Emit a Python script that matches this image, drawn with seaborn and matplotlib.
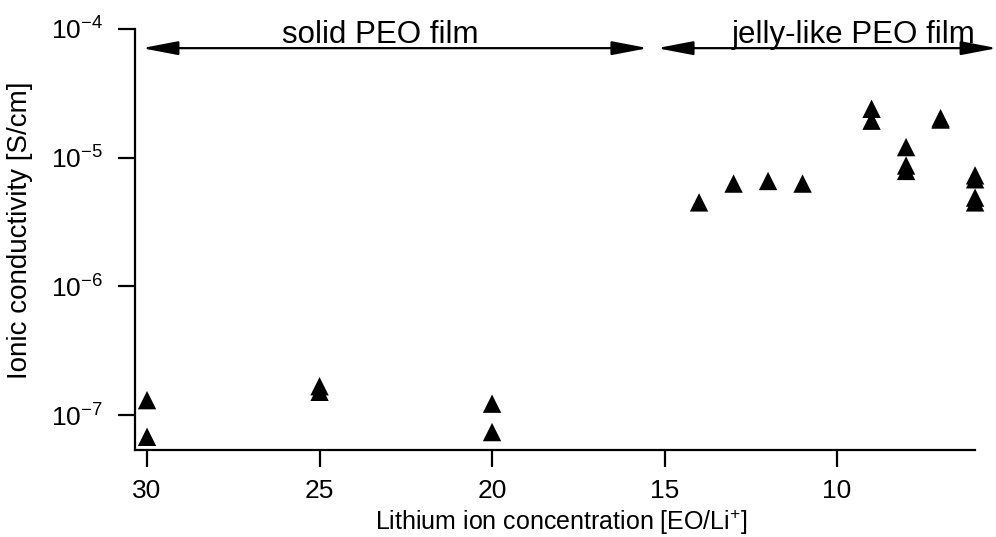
import matplotlib
matplotlib.use("Agg")
import matplotlib.pyplot as plt
import seaborn as sns
import pandas as pd
import numpy as np
from matplotlib.ticker import LogLocator, NullLocator, FixedLocator

# Data
eo_li = [30, 30, 25, 25, 20, 20,
         14, 13, 12, 11,
         9, 9, 8, 8, 8, 7, 7,
         6, 6, 6, 6]
conductivity = [1.31e-7, 6.8e-8, 1.68e-7, 1.52e-7, 1.23e-7, 7.4e-8,
                4.5e-6, 6.3e-6, 6.6e-6, 6.3e-6,
                2.40e-5, 1.94e-5, 1.21e-5, 8.7e-6, 7.9e-6, 2.03e-5, 1.98e-5,
                7.3e-6, 6.8e-6, 4.9e-6, 4.5e-6]
x_ticks = [30, 25, 20, 15, 10]
region_labels = ["solid PEO film", "jelly-like PEO film"]

df = pd.DataFrame({"x": eo_li, "y": conductivity})

sns.set_theme(style="white")
plt.rcParams["font.family"] = ["Liberation Sans", "DejaVu Sans"]
plt.rcParams["mathtext.fontset"] = "custom"
plt.rcParams["mathtext.rm"] = "Liberation Sans"
plt.rcParams["mathtext.it"] = "Liberation Sans:italic"
plt.rcParams["text.color"] = "black"
plt.rcParams["axes.labelcolor"] = "black"

fig = plt.figure(figsize=(9.96, 5.37), dpi=100)
ax = fig.add_axes([0.1355, 0.162, 0.979 - 0.1355, 0.946 - 0.162])

sns.scatterplot(data=df, x="x", y="y", marker="^", color="black", s=175,
                edgecolor="none", ax=ax, legend=False, clip_on=False)

ax.set_yscale("log")
ax.set_xlim(30.35, 6.0)
ax.set_ylim(10 ** -7.27, 1e-4)
ax.xaxis.set_major_locator(FixedLocator(x_ticks))
ax.yaxis.set_major_locator(LogLocator(base=10, numticks=10))
ax.yaxis.set_minor_locator(NullLocator())
ax.xaxis.set_minor_locator(NullLocator())

for s in ["top", "right"]:
    ax.spines[s].set_visible(False)
for s in ["left", "bottom"]:
    ax.spines[s].set_linewidth(1.6)
    ax.spines[s].set_color("black")

ax.tick_params(axis="both", which="major", direction="out", length=12,
               width=1.6, color="black", labelsize=19, labelcolor="black",
               bottom=True, left=True)
ax.tick_params(axis="x", pad=9)
ax.tick_params(axis="y", pad=11)

ax.set_xlabel("Lithium ion concentration [EO/Li$^{+}$]", fontsize=18)
ax.set_ylabel("Ionic conductivity [S/cm]", fontsize=20)
ax.xaxis.set_label_coords(0.508, -0.137)
ax.yaxis.set_label_coords(-0.121, 0.5226)

arrow_y = 7.1e-5
ap = dict(arrowstyle="<|-|>,head_length=2.2,head_width=0.42", color="black",
          lw=1.6, shrinkA=0, shrinkB=0, mutation_scale=10)
ax.annotate("", xy=(30.15, arrow_y), xytext=(15.48, arrow_y), arrowprops=ap,
            annotation_clip=False)
ax.annotate("", xy=(15.22, arrow_y), xytext=(5.36, arrow_y), arrowprops=ap,
            annotation_clip=False)

ax.text(23.25, 10 ** -4.109, region_labels[0], fontsize=22.5, ha="center",
        va="baseline", clip_on=False)
ax.text(6.0, 10 ** -4.109, region_labels[1], fontsize=22.5, ha="right",
        va="baseline", clip_on=False)

fig.savefig("out.png", dpi=100)
